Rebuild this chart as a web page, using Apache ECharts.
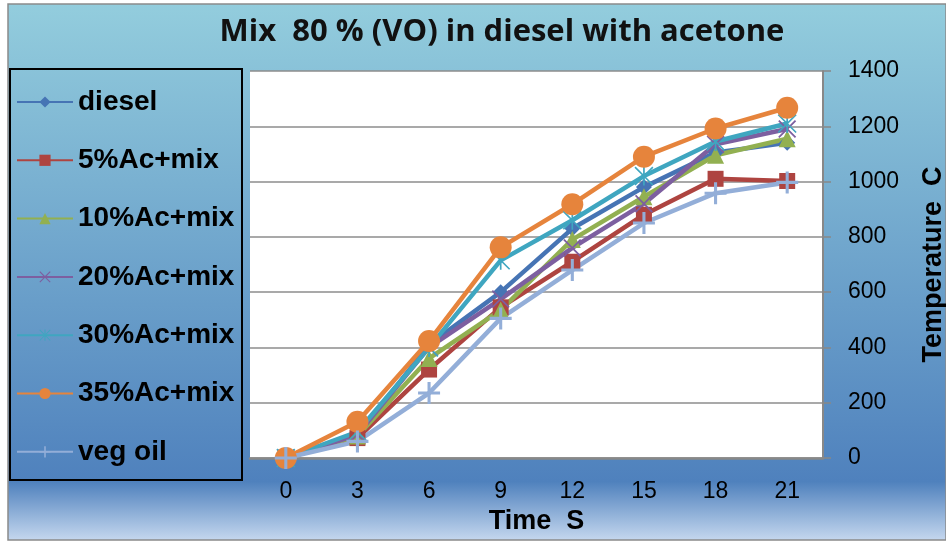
<!DOCTYPE html>
<html>
<head>
<meta charset="utf-8">
<script src="https://cdn.jsdelivr.net/npm/echarts@6/dist/echarts.min.js"></script>
<style>
html,body{margin:0;padding:0;background:#fff;}
#c{width:946px;height:541px;}
</style>
</head>
<body>
<div id="c"></div>
<script>
var categories = ['0', '3', '6', '9', '12', '15', '18', '21'];
var seriesNames = ['diesel', '5%Ac+mix', '10%Ac+mix', '20%Ac+mix', '30%Ac+mix', '35%Ac+mix', 'veg oil'];
var diesel = [0, 80, 410, 600, 830, 980, 1105, 1140];
var ac5 = [0, 72, 320, 545, 710, 880, 1010, 1002];
var ac10 = [0, 80, 360, 535, 790, 945, 1095, 1155];
var ac20 = [0, 85, 400, 575, 760, 920, 1135, 1190];
var ac30 = [0, 95, 400, 715, 860, 1020, 1145, 1210];
var ac35 = [0, 131, 423, 762, 918, 1090, 1192, 1267];
var vegOil = [0, 60, 235, 505, 680, 850, 958, 997];
var yTicks = [0, 200, 400, 600, 800, 1000, 1200, 1400];

var colors = ['#4674B4', '#AE4440', '#92B051', '#7D5FA0', '#3FA6C0', '#E6843C', '#93AED8'];
var plusPath = 'path://M-1.4,-10 L1.4,-10 L1.4,-1.4 L10,-1.4 L10,1.4 L1.4,1.4 L1.4,10 L-1.4,10 L-1.4,1.4 L-10,1.4 L-10,-1.4 L-1.4,-1.4 Z';
var xPath = 'path://M-10,-8.6 L-8.6,-10 L0,-1.4 L8.6,-10 L10,-8.6 L1.4,0 L10,8.6 L8.6,10 L0,1.4 L-8.6,10 L-10,8.6 L-1.4,0 Z';
var starPath = 'path://M-0.9,-10 L0.9,-10 L0.9,10 L-0.9,10 Z M-10,-8.8 L-8.8,-10 L10,8.8 L8.8,10 Z M8.8,-10 L10,-8.8 L-8.8,10 L-10,8.8 Z';
var symbols = ['diamond', 'rect', 'triangle', xPath, starPath, 'circle', plusPath];
var sizes = [16, 16, 17, 18, 19, 22, 22];
var dataList = [diesel, ac5, ac10, ac20, ac30, ac35, vegOil];

var series = seriesNames.map(function (n, i) {
  return {
    name: n,
    type: 'line',
    data: dataList[i],
    symbol: symbols[i],
    symbolSize: sizes[i],
    showAllSymbol: true,
    clip: false,
    lineStyle: { color: colors[i], width: 4.5 },
    itemStyle: { color: colors[i], borderWidth: 0 },
    emphasis: { disabled: true },
    animation: false
  };
});

var chart = echarts.init(document.getElementById('c'), null, { renderer: 'canvas' });
chart.setOption({
  backgroundColor: '#ffffff',
  animation: false,
  color: colors,
  graphic: [
    {
      type: 'rect', z: -10, silent: true,
      shape: { x: 8, y: 4, width: 938, height: 536 },
      style: {
        fill: new echarts.graphic.LinearGradient(0, 0, 0, 1, [
          { offset: 0, color: '#93CDDD' },
          { offset: 0.89, color: '#4F81BD' },
          { offset: 1, color: '#C6D8EF' }
        ]),
        stroke: '#8a8a8a', lineWidth: 1.5
      }
    },
    {
      type: 'rect', z: 5, silent: true,
      shape: { x: 10, y: 69, width: 232, height: 411 },
      style: { fill: 'transparent', stroke: '#000', lineWidth: 2 }
    }
  ],
  title: {
    text: 'Mix  80 % (VO) in diesel with acetone',
    left: 497,
    textAlign: 'center',
    top: 12,
    textStyle: { fontFamily: 'Open Sans', fontSize: 31, fontWeight: 'bold', color: '#111' }
  },
  legend: {
    orient: 'vertical',
    left: 16,
    top: 88,
    itemWidth: 56,
    itemHeight: 14,
    itemGap: 30.3,
    padding: 0,
    textStyle: { fontFamily: 'Liberation Sans', fontSize: 28, fontWeight: 'bold', color: '#000', lineHeight: 27 },
    data: seriesNames
  },
  grid: { left: 250, right: 123, top: 71, bottom: 83, show: true, backgroundColor: '#ffffff', borderWidth: 0, outerBoundsMode: 'none', containLabel: false },
  xAxis: {
    type: 'category',
    data: categories,
    boundaryGap: true,
    name: 'Time  S',
    nameLocation: 'middle',
    nameGap: 48,
    nameTextStyle: { fontFamily: 'Liberation Sans', fontSize: 27, fontWeight: 'bold', color: '#000' },
    axisLine: { show: true, lineStyle: { color: '#888', width: 2.5 } },
    axisTick: { show: false },
    axisLabel: { fontFamily: 'Liberation Sans', fontSize: 23, color: '#000', margin: 22 },
    splitLine: { show: false }
  },
  yAxis: {
    type: 'value',
    position: 'right',
    min: yTicks[0],
    max: yTicks[yTicks.length - 1],
    interval: 200,
    name: 'Temperature  C',
    nameLocation: 'middle',
    nameRotate: 90,
    nameGap: 97,
    nameTextStyle: { fontFamily: 'Liberation Sans', fontSize: 27, fontWeight: 'bold', color: '#000' },
    axisLine: { show: true, lineStyle: { color: '#888', width: 2 } },
    axisTick: { show: true, inside: false, length: 8, lineStyle: { color: '#888', width: 1.5 } },
    axisLabel: { fontFamily: 'Liberation Sans', fontSize: 23, color: '#000', margin: 25, formatter: function (v) { return String(v); } },
    splitLine: { show: true, lineStyle: { color: '#8c8c8c', width: 1.5 } }
  },
  series: series
});
</script>
</body>
</html>
